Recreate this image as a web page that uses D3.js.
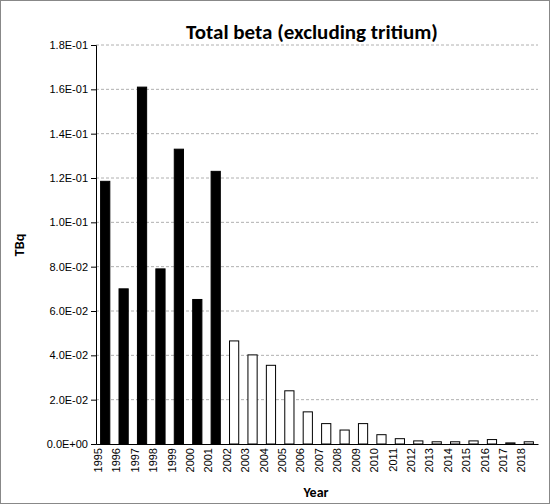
<!DOCTYPE html>
<html><head><meta charset="utf-8">
<script src="https://cdn.jsdelivr.net/npm/d3@7"></script>
<style>body{margin:0;background:#fff;font-family:Calibri,Carlito,"Liberation Sans",Arial,sans-serif}</style>
</head><body><svg id="c" width="550" height="504"></svg>
<script>
const years=["1995","1996","1997","1998","1999","2000","2001","2002","2003","2004","2005","2006","2007","2008","2009","2010","2011","2012","2013","2014","2015","2016","2017","2018"];
const values=[0.1185,0.0700,0.1610,0.0790,0.1330,0.0652,0.1230,0.0465,0.0402,0.0355,0.0240,0.0145,0.0092,0.0063,0.0092,0.0042,0.0024,0.0014,0.0010,0.0010,0.0014,0.0020,0.0005,0.0010];
const filled=[1,1,1,1,1,1,1,0,0,0,0,0,0,0,0,0,0,0,0,0,0,0,0,0];
const yTicks=[0,0.02,0.04,0.06,0.08,0.10,0.12,0.14,0.16,0.18];
const svg=d3.select("#c");
svg.append("rect").attr("x",0.5).attr("y",0.5).attr("width",549).attr("height",503).attr("fill","none").attr("stroke","#888");
const L=96,R=538,T=45,B=444;
const x=d3.scaleBand().domain(years).range([L,R]).paddingInner(0.5).paddingOuter(0.25);
const y=d3.scaleLinear().domain([0,0.18]).range([B,T]);
const fmt=v=>{if(v===0)return"0.0E+00";const e=Math.floor(Math.log10(v)+1e-9);const m=v/Math.pow(10,e);return m.toFixed(1)+"E"+(e<0?"-":"+")+String(Math.abs(e)).padStart(2,"0");};
svg.append("g").selectAll("line").data(yTicks.slice(1)).join("line")
 .attr("x1",L).attr("x2",R).attr("y1",d=>y(d)).attr("y2",d=>y(d))
 .attr("stroke","#b0b0b0").attr("stroke-dasharray","3,2");
svg.append("g").selectAll("rect").data(years).join("rect")
 .attr("x",d=>x(d)).attr("width",x.bandwidth())
 .attr("y",(d,i)=>y(values[i])).attr("height",(d,i)=>B-y(values[i]))
 .attr("fill",(d,i)=>filled[i]?"#000":"#fff").attr("stroke","#000").attr("stroke-width",1);
const ya=svg.append("g").attr("transform",`translate(${L},0)`).call(d3.axisLeft(y).tickValues(yTicks).tickFormat(fmt).tickSize(5));
ya.selectAll("text").attr("font-size",11).attr("fill","#000").style("font-family","inherit");
const xa=svg.append("g").attr("transform",`translate(0,${B})`).call(d3.axisBottom(x).tickSize(0));
xa.selectAll("text").attr("font-size",11).attr("fill","#000").style("font-family","inherit")
 .attr("transform","rotate(-90)").attr("text-anchor","end").attr("dx","-4").attr("dy","-0.3em").attr("x",0).attr("y",0);
svg.selectAll(".domain").attr("stroke","#000");
svg.append("text").attr("x",312).attr("y",39).attr("text-anchor","middle").attr("font-size",21).attr("font-weight","bold").text("Total beta (excluding tritium)");
svg.append("text").attr("x",316).attr("y",497).attr("text-anchor","middle").attr("font-size",14).attr("font-weight","bold").text("Year");
svg.append("text").attr("transform","translate(24,245) rotate(-90)").attr("text-anchor","middle").attr("font-size",14).attr("font-weight","bold").text("TBq");
</script></body></html>
